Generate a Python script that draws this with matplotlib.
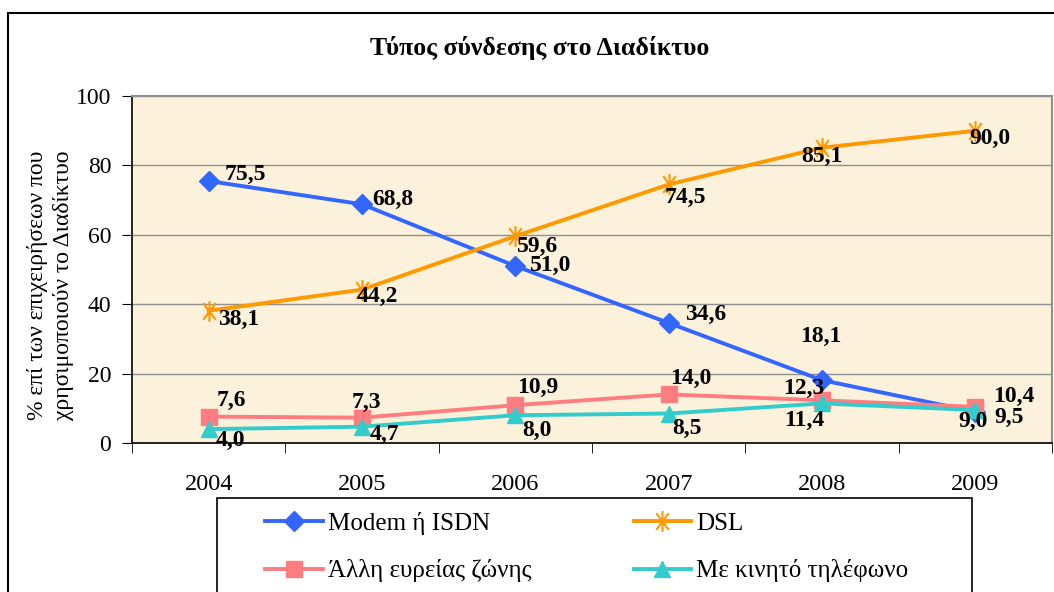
import matplotlib.pyplot as plt
from matplotlib.patches import Rectangle
from matplotlib.path import Path

years = ["2004", "2005", "2006", "2007", "2008", "2009"]
modem = [75.5, 68.8, 51.0, 34.6, 18.1, 9.0]
dsl = [38.1, 44.2, 59.6, 74.5, 85.1, 90.0]
other_bb = [7.6, 7.3, 10.9, 14.0, 12.3, 10.4]
mobile = [4.0, 4.7, 8.0, 8.5, 11.4, 9.5]

series_names = ["Modem ή ISDN", "DSL", "Άλλη ευρείας ζώνης", "Με κινητό τηλέφωνο"]

# label offsets in pixels (dx, dy) for each data label
off_modem = [(37, 7), (31, 5), (35, 1), (37, 8), (-1, 44), (-2, -10)]
off_dsl = [(30, -9), (15, -7), (22, -10), (17, -13), (0, -9), (15, -8)]
off_other = [(23, 16), (4, 15), (22, 18), (22, 16), (-18, 12), (38, 10)]
off_mobile = [(22, -11), (22, -8), (22, -15), (18, -15), (-18, -17), (34, -7)]

plt.rcParams["font.family"] = ["Liberation Serif", "DejaVu Serif"]

# excel-like asterisk: vertical bar + two diagonals
star = Path([(0, -1), (0, 1), (-0.6, -0.8), (0.6, 0.8), (-0.6, 0.8), (0.6, -0.8)],
            [Path.MOVETO, Path.LINETO, Path.MOVETO, Path.LINETO, Path.MOVETO, Path.LINETO])

fig = plt.figure(figsize=(10.54, 5.92), dpi=100)
ax = fig.add_axes([132 / 1054, 1 - 443 / 592, 920 / 1054, 347 / 592])
ax.set_facecolor("#FCF1DA")

x = list(range(len(years)))
styles = [
    dict(color="#3366FF", marker="D", ms=10),
    dict(color="#FF9900", marker=star, ms=15, mew=1.5, mfc="none"),
    dict(color="#FF7C80", marker="s", ms=11),
    dict(color="#33CCCC", marker="^", ms=12),
]
all_data = [modem, dsl, other_bb, mobile]
all_off = [off_modem, off_dsl, off_other, off_mobile]

handles = []
for data, name, st, offs in zip(all_data, series_names, styles, all_off):
    h, = ax.plot(x, data, lw=2.8, label=name, zorder=3, **st)
    handles.append(h)
    for xi, v, (dx, dy) in zip(x, data, offs):
        ax.annotate(f"{v:.1f}".replace(".", ","), (xi, v), xytext=(dx, dy),
                    textcoords="offset pixels", ha="center", va="center",
                    fontsize=17, fontweight="bold", zorder=5)

ax.set_xlim(-0.5, 5.5)
ax.set_ylim(0, 100)
ax.set_yticks([0, 20, 40, 60, 80, 100])
ax.grid(axis="y", color="#909090", lw=1)
ax.set_axisbelow(True)
ax.set_xticks(x)
ax.set_xticklabels(years)
ax.set_xticks([i - 0.5 for i in range(len(years) + 1)], minor=True)
ax.tick_params(axis="x", which="major", length=0, pad=22, labelsize=17.5)
ax.tick_params(axis="x", which="minor", length=7, direction="out", color="black")
ax.tick_params(axis="y", length=7, direction="out", labelsize=17, pad=8)
for s in ["top", "right"]:
    ax.spines[s].set_color("#909090")
    ax.spines[s].set_linewidth(1.5)
for s in ["left", "bottom"]:
    ax.spines[s].set_color("black")
    ax.spines[s].set_linewidth(1.2)

ax.set_ylabel("% επί των επιχειρήσεων που\nχρησιμοποιούν το Διαδίκτυο",
              fontsize=17, linespacing=1.3)
ax.yaxis.set_label_coords(-0.063, 0.455)

fig.text(540 / 1054, 1 - 48 / 592, "Τύπος σύνδεσης στο Διαδίκτυο",
         ha="center", va="center", fontsize=18.5, fontweight="bold")

# outer chart frame (cut off at right and bottom)
fig.patches.append(Rectangle((8 / 1054, -0.1), 1.2, 1.1 - 13 / 592,
                             transform=fig.transFigure, fill=False,
                             edgecolor="black", lw=1.5))
# legend frame (cut off at bottom)
fig.patches.append(Rectangle((217 / 1054, -0.1), 755 / 1054, 0.1 + 1 - 498 / 592,
                             transform=fig.transFigure, fill=False,
                             edgecolor="black", lw=1.2))

leg_handles = [handles[0], handles[2], handles[1], handles[3]]
leg = fig.legend(handles=leg_handles, ncol=2, loc="upper left",
                 bbox_to_anchor=(265 / 1054, 1 - 512 / 592),
                 frameon=False, fontsize=18, handlelength=2.3,
                 handletextpad=0.2, columnspacing=4.1,
                 labelspacing=0.98, borderpad=0, borderaxespad=0)

fig.savefig("out.png", dpi=100)
